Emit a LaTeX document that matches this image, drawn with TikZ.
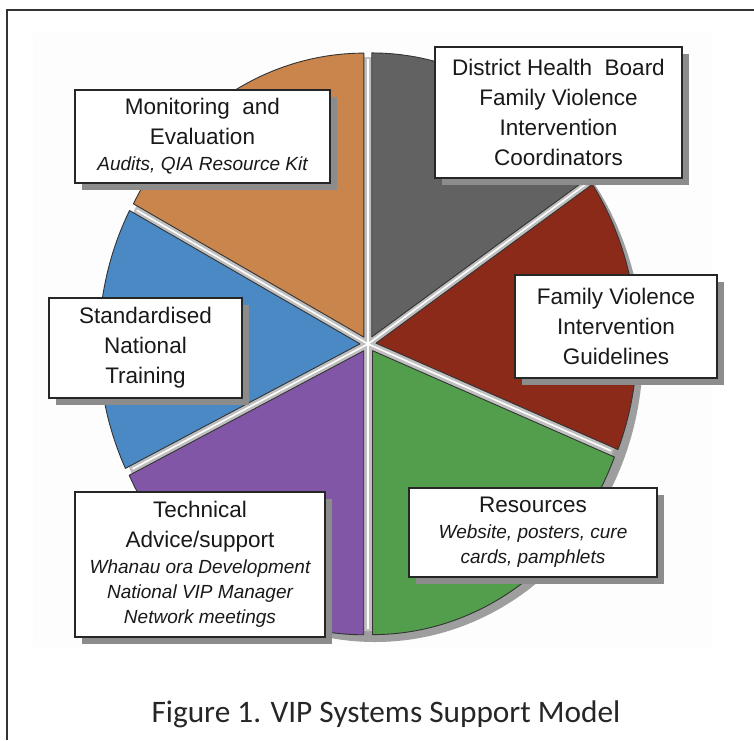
\documentclass[tikz,border=0pt]{standalone}
\usepackage{fontspec}
\setmainfont{Liberation Sans}
\newfontfamily\captionfont{Carlito}
\usepackage{xcolor}
\usetikzlibrary{positioning,shadows}

\definecolor{dhbgray}{RGB}{98,98,98}
\definecolor{fvred}{RGB}{140,42,26}
\definecolor{resgreen}{RGB}{82,158,76}
\definecolor{techpurple}{RGB}{130,86,166}
\definecolor{trainblue}{RGB}{74,137,196}
\definecolor{monorange}{RGB}{201,133,76}

\newcommand\subtext[1]{{\itshape\fontsize{19}{25}\selectfont #1}}

\begin{document}
\begin{tikzpicture}[
            x=1pt, y=1pt,
            slice/.style={draw=black!80, line width=0.9pt, line join=round},
            gapline/.style={draw=white, line width=1.6pt},
            labelbox/.style={draw=black!85, fill=white, line width=1.3pt, align=center, inner sep=2pt,
                text=black!90, font=\fontsize{22.5}{30}\selectfont,
                general shadow={fill=black!45, shadow xshift=7pt, shadow yshift=-7pt}}
        ]
        \useasboundingbox (0,0) rectangle (754,740);

        % Frame and backdrop
        \fill[black!0.8] (33,93) rectangle (712,707);
        \draw[line width=2pt, black!80] (7,0) -- (7,730) -- (754,730);

        % Pie
        \begin{scope}[shift={(368,396)}]
        \fill[black!38] (7,-7) ellipse [x radius=268, y radius=291];
        \fill[black!25] (0,0) ellipse [x radius=264, y radius=287];
        \filldraw[slice, fill=dhbgray] (62:8) -- ++(34:261 and 284) arc[start angle=34, end angle=90, x radius=261, y radius=284] -- cycle;
        \filldraw[slice, fill=fvred] (6:8) -- ++(-22:261 and 284) arc[start angle=-22, end angle=34, x radius=261, y radius=284] -- cycle;
        \filldraw[slice, fill=resgreen] (-56:8) -- ++(-90:261 and 284) arc[start angle=-90, end angle=-22, x radius=261, y radius=284] -- cycle;
        \filldraw[slice, fill=techpurple] (-122:8) -- ++(206:261 and 284) arc[start angle=206, end angle=270, x radius=261, y radius=284] -- cycle;
        \filldraw[slice, fill=trainblue] (179:8) -- ++(152:261 and 284) arc[start angle=152, end angle=206, x radius=261, y radius=284] -- cycle;
        \filldraw[slice, fill=monorange] (121:8) -- ++(90:261 and 284) arc[start angle=90, end angle=152, x radius=261, y radius=284] -- cycle;
        \draw[gapline] (0,0) -- (34:262 and 285);
        \draw[gapline] (0,0) -- (90:262 and 285);
        \draw[gapline] (0,0) -- (152:262 and 285);
        \draw[gapline] (0,0) -- (206:262 and 285);
        \draw[gapline] (0,0) -- (270:262 and 285);
        \draw[gapline] (0,0) -- (338:262 and 285);
        \end{scope}

        % Labels
        \node[labelbox, minimum width=247pt, minimum height=131pt] (dhb) at (558.5,627.5)
            {District Health\ \ Board\\Family Violence\\Intervention\\Coordinators};
        \node[labelbox, minimum width=255pt, minimum height=93pt] (monitor) at (202.5,603.5)
            {Monitoring\ \ and\\Evaluation\\[-4pt]\subtext{Audits, QIA Resource Kit}};
        \node[labelbox, minimum width=202pt, minimum height=103pt] (guide) at (616,413.5)
            {Family Violence\\Intervention\\Guidelines};
        \node[labelbox, minimum width=193pt, minimum height=100pt] (training) at (145.5,392)
            {Standardised\\National\\Training};
        \node[labelbox, minimum width=248pt, minimum height=89pt] (resources) at (533,207.5)
            {Resources\\[-4pt]\subtext{Website, posters, cure}\\[-5pt]\subtext{cards, pamphlets}};
        \node[labelbox, minimum width=250pt, minimum height=145pt] (technical) at (200,175.5)
            {Technical\\Advice/support\\[-4pt]\subtext{Whanau ora Development}\\[-5pt]\subtext{National VIP Manager}\\[-5pt]\subtext{Network meetings}};

        % Caption
        \node[anchor=base, text=black!85, font=\captionfont\fontsize{31.3}{36}\selectfont] (caption) at (386,18)
            {Figure 1. VIP Systems Support Model};
\end{tikzpicture}
\end{document}
